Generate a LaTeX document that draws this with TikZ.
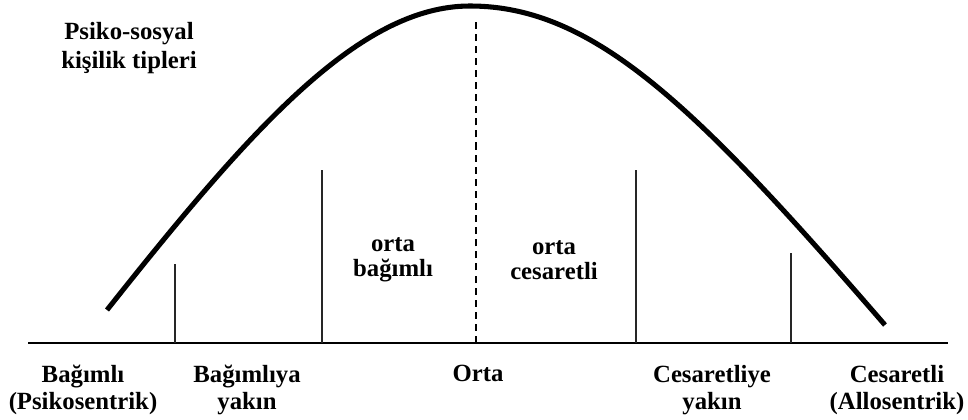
\documentclass[tikz,border=0pt]{standalone}
\usepackage{fontspec}
\setmainfont{Liberation Serif}
\usetikzlibrary{positioning}

\tikzset{
  lbl/.style={font=\bfseries\fontsize{17.6}{19.5}\selectfont, align=center, inner sep=0pt},
  bell/.style={line width=3.6pt},
  axisline/.style={line width=2.1pt},
  divider/.style={line width=0.9pt, draw=black!85},
  midline/.style={line width=1.4pt, dash pattern=on 5pt off 3.6pt}
}

\begin{document}
\begin{tikzpicture}[x=0.025cm, y=-0.025cm]
  \useasboundingbox (0,0) rectangle (968,420);
  % base line and division points
  \coordinate (axL) at (28,343);
  \coordinate (axR) at (948,343);
  \coordinate (d1) at (175,343);
  \coordinate (d2) at (322,343);
  \coordinate (mid) at (476,343);
  \coordinate (d3) at (636,343);
  \coordinate (d4) at (791,343);
  \coordinate (top1) at (175,264);
  \coordinate (top2) at (322,170);
  \coordinate (topm) at (476,22);
  \coordinate (top3) at (636,170);
  \coordinate (top4) at (791,253);

  % bell curve
  \coordinate (bellL) at (107,310);
  \coordinate (peak) at (470,6);
  \coordinate (bellR) at (885,325);
  \draw[bell] (bellL) .. controls (252,127) and (360,6) .. (peak)
                      .. controls (595,6) and (698,109) .. (bellR);

  \draw[axisline] (axL) -- (axR);
  \draw[divider] (d1) -- (top1);
  \draw[divider] (d2) -- (top2);
  \draw[divider] (d3) -- (top3);
  \draw[divider] (d4) -- (top4);
  \draw[midline] (mid) -- (topm);

  % labels
  \node[lbl, font=\bfseries\fontsize{17.6}{21}\selectfont] (title) at (129,48) {Psiko-sosyal\\kişilik tipleri};
  \node[lbl, font=\bfseries\fontsize{17.6}{18}\selectfont] (ortaB) at (393,260) {orta\\bağımlı};
  \node[lbl, font=\bfseries\fontsize{17.6}{18}\selectfont] (ortaC) at (554,260) {orta\\cesaretli};
  \node[lbl] (bag) at (83,390) {Bağımlı\\(Psikosentrik)};
  \node[lbl] (bagY) at (247,390) {Bağımlıya\\yakın};
  \node[lbl] (orta) at (478,373) {Orta};
  \node[lbl] (cesY) at (712,390) {Cesaretliye\\yakın};
  \node[lbl] (ces) at (897,390) {Cesaretli\\(Allosentrik)};
\end{tikzpicture}
\end{document}
